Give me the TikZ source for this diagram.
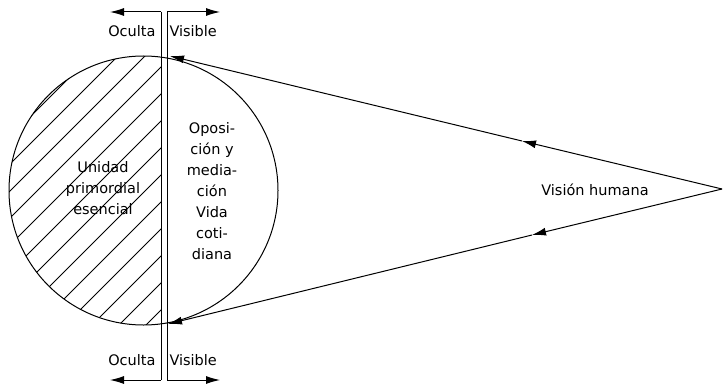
\documentclass[tikz,border=0pt]{standalone}
\usepackage{fontspec}
\setmainfont{DejaVu Sans}
\usetikzlibrary{arrows.meta}
\tikzset{
  lbl/.style={font=\fontsize{14.5}{21}\selectfont, inner sep=0pt, align=center},
  tip/.style={-{Latex[length=14pt,width=8pt]}},
}
\begin{document}
\begin{tikzpicture}[x=1pt,y=-1pt,line width=1pt]
\useasboundingbox (0,0) rectangle (727,385);
\coordinate (c) at (143.5,190.5);
\coordinate (ltop) at (161,12);
\coordinate (lbot) at (161,380);
\coordinate (rtop) at (167,12);
\coordinate (rbot) at (167,380);
\coordinate (ltopend) at (110,12);
\coordinate (rtopend) at (220,12);
\coordinate (lbotend) at (110,380);
\coordinate (rbotend) at (220,380);
\coordinate (apex) at (722,189);
\coordinate (mt) at (522,141);
\coordinate (mb) at (532,235);
\coordinate (vt) at (170,56);
\coordinate (vb) at (168,324);
% hatching of the hidden half
\begin{scope}
\clip (0,0) rectangle (161,385);
\clip (c) circle (134.5);
\foreach \k in {12,39,...,498}
  \draw[line width=.8pt] ({\k-400},400) -- (\k,0);
\end{scope}
\draw (c) circle (134.5);
\draw (ltop) -- (lbot);
\draw (rtop) -- (rbot);
\draw[tip] (ltop) -- (ltopend);
\draw[tip] (rtop) -- (rtopend);
\draw[tip] (lbot) -- (lbotend);
\draw[tip] (rbot) -- (rbotend);
\node[lbl, anchor=east] (ocultat) at (156,31) {Oculta};
\node[lbl, anchor=west] (visiblet) at (169,31) {Visible};
\node[lbl, anchor=east] (ocultab) at (156,360) {Oculta};
\node[lbl, anchor=west] (visibleb) at (169,360) {Visible};
\node[lbl] (unidad) at (103,188) {Unidad\\primordial\\esencial};
\node[lbl] (oposicion) at (212,191) {Oposi-\\ción y\\media-\\ción\\Vida\\coti-\\diana};
\node[lbl] (vision) at (595,190) {Visión humana};
% lines of sight
\draw[tip] (apex) -- (mt);
\draw[tip] (mt) -- (vt);
\draw[tip] (apex) -- (mb);
\draw[tip] (mb) -- (vb);
\end{tikzpicture}
\end{document}
